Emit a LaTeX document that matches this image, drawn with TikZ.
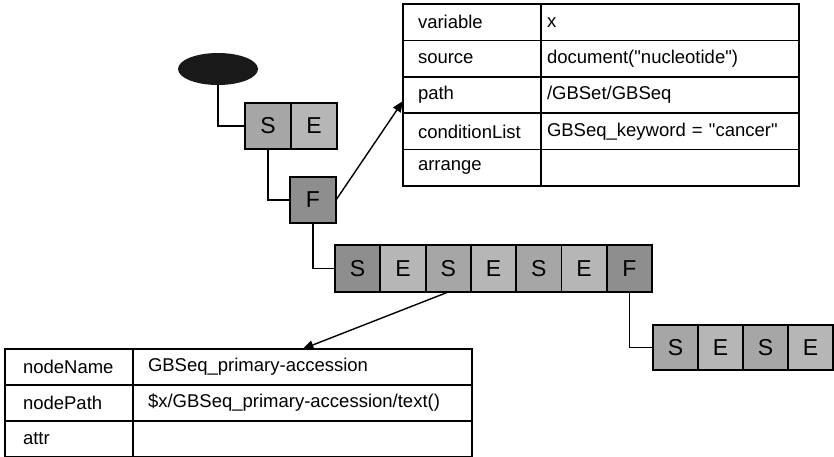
\documentclass[tikz,border=0pt]{standalone}
\usepackage{fontspec}
\setmainfont{Liberation Sans}
\usetikzlibrary{arrows.meta,shapes.geometric}
\definecolor{gdark}{HTML}{8E8E8E}
\definecolor{gmid}{HTML}{A6A6A6}
\definecolor{glight}{HTML}{B6B6B6}
\newcommand{\dq}{\textquotedbl}
\begin{document}
\begin{tikzpicture}[x=1pt,y=-1pt,
  cell/.style={draw, line width=1.8pt, minimum width=46pt, minimum height=46pt,
    inner sep=0pt, outer sep=0pt, font=\fontsize{23}{25}\selectfont},
  rowcell/.style={cell, minimum width=45.3pt, minimum height=47pt},
  tailcell/.style={cell, minimum width=45pt, minimum height=45pt},
  tab/.style={draw, line width=1.5pt, anchor=north west, inner ysep=0pt, outer sep=0pt,
    align=left, font=\fontsize{18.5}{21}\selectfont},
  tkey/.style={tab, minimum height=36.4pt, inner xsep=15pt, text width=108pt},
  tval/.style={tab, minimum height=36.4pt, inner xsep=6pt, text width=246pt},
  bkey/.style={tab, minimum height=36pt, inner xsep=18pt, text width=92pt},
  bval/.style={tab, minimum height=36pt, inner xsep=15pt, text width=309pt},
  link/.style={draw, line width=1.4pt},
  pointer/.style={link, -{Triangle[length=11pt,width=9pt]}}]
\useasboundingbox (0,0) rectangle (834,456);

% root of the tree
\node[ellipse, fill=black!90, minimum width=80pt, minimum height=32pt, inner sep=0pt] (root) at (218,69) {};

% first S/E pair and its F child
\node[cell, fill=gmid] (s1) at (268,126) {S};
\node[cell, fill=glight] (e1) at (314,126) {E};
\node[cell, fill=gdark] (f1) at (313,200) {F};

% long row of seven cells
\node[rowcell, fill=gdark]  (r1) at (357.65,268.5) {S};
\node[rowcell, fill=glight] (r2) at (402.95,268.5) {E};
\node[rowcell, fill=gmid]   (r3) at (448.25,268.5) {S};
\node[rowcell, fill=glight] (r4) at (493.55,268.5) {E};
\node[rowcell, fill=gmid]   (r5) at (538.85,268.5) {S};
\node[rowcell, fill=glight] (r6) at (584.15,268.5) {E};
\node[rowcell, fill=gdark]  (r7) at (629.45,268.5) {F};

% trailing S/E/S/E row
\node[tailcell, fill=gmid]   (t1) at (675.5,347.5) {S};
\node[tailcell, fill=glight] (t2) at (720.5,347.5) {E};
\node[tailcell, fill=gmid]   (t3) at (765.5,347.5) {S};
\node[tailcell, fill=glight] (t4) at (810.5,347.5) {E};

% query description table
\node[tkey] (kvar)  at (403,4)     {variable};
\node[tval] (vvar)  at (541,4)     {x};
\node[tkey] (ksrc)  at (403,40.4)  {source};
\node[tval] (vsrc)  at (541,40.4)  {document(\dq nucleotide\dq)};
\node[tkey] (kpath) at (403,76.8)  {path};
\node[tval] (vpath) at (541,76.8)  {/GBSet/GBSeq};
\node[tkey] (kcond) at (403,113.2) {conditionList};
\node[tval] (vcond) at (541,113.2) {GBSeq\_keyword = \dq cancer\dq};
\node[tkey] (karr)  at (403,149.6) {arrange};
\node[tval] (varr)  at (541,149.6) {};

% node description table
\node[bkey] (kname) at (5,349)   {nodeName};
\node[bval] (vname) at (133,349) {GBSeq\_primary-accession};
\node[bkey] (kpth)  at (5,385)   {nodePath};
\node[bval] (vpth)  at (133,385) {\$x/GBSeq\_primary-accession/text()};
\node[bkey] (kattr) at (5,421)   {attr};
\node[bval] (vattr) at (133,421) {};

% tree connectors
\draw[link] (root.south) |- (s1.west);
\draw[link] (s1.south) |- (f1.west);
\draw[link] (f1.south) |- (r1.west);
\draw[link] (r7.south) |- (t1.west);

% pointers to the tables
\draw[pointer] (f1.east) -- ([yshift=-6pt]kpath.west);
\draw[pointer] (r3.south) -- (vname.north);
\end{tikzpicture}
\end{document}
